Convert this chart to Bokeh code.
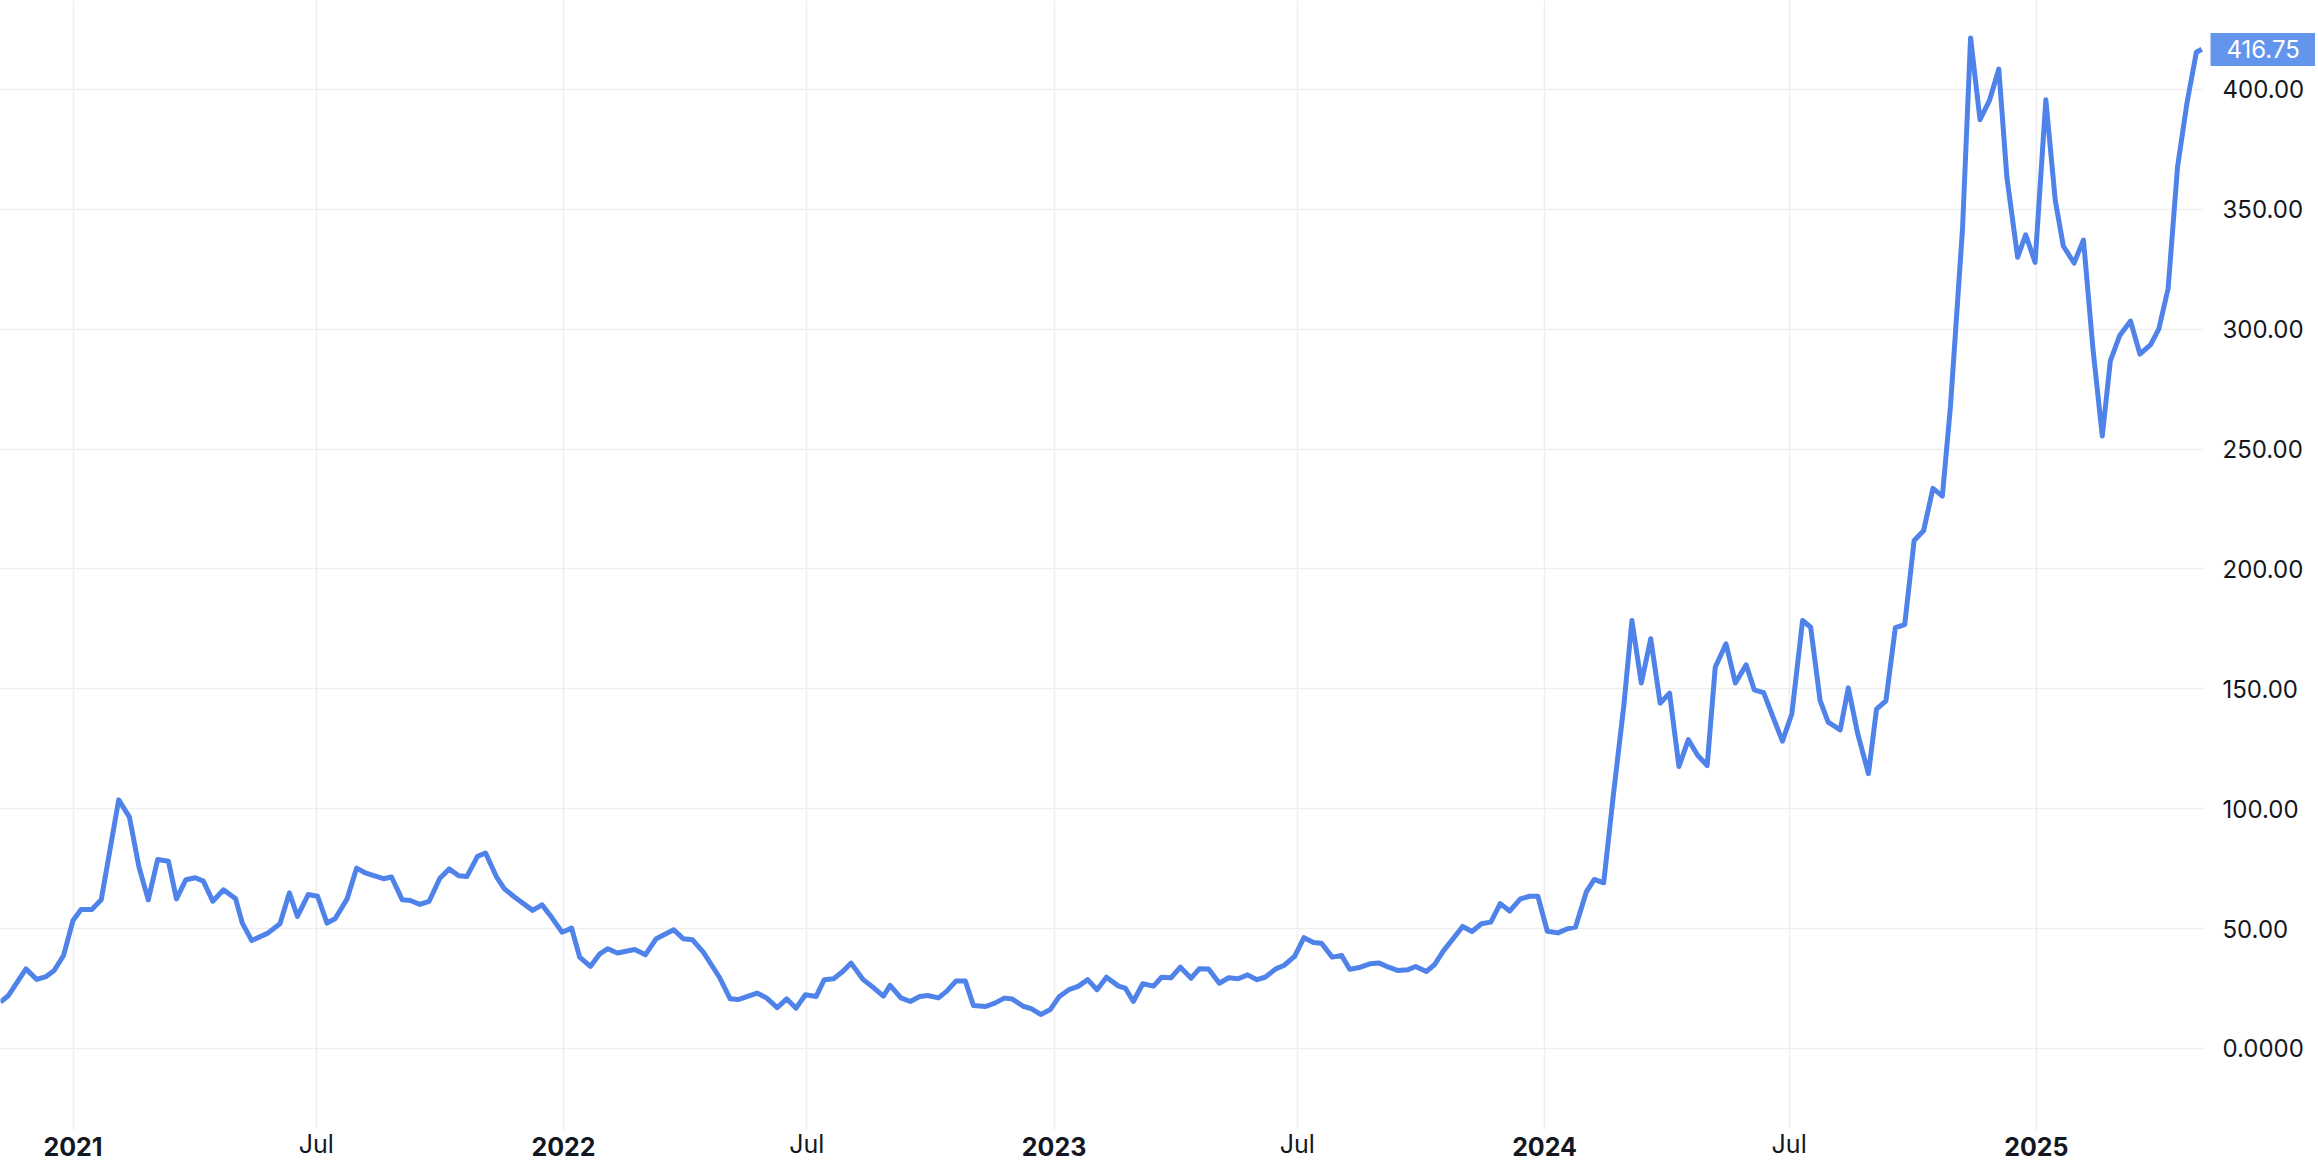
import pandas as pd
from bokeh.plotting import figure
from bokeh.models import (Range1d, LinearAxis, DatetimeAxis, FixedTicker, DatetimeTickFormatter,
                          CustomJSTickFormatter, Grid, ColumnDataSource)
from bokeh.embed import file_html
from bokeh.resources import INLINE

# ---- data ----
dates = [
    "2020-11-08", "2020-11-14", "2020-11-27", "2020-12-05", "2020-12-12", "2020-12-18", "2020-12-25",
    "2021-01-01", "2021-01-07", "2021-01-15", "2021-01-22", "2021-02-04", "2021-02-12", "2021-02-19",
    "2021-02-26", "2021-03-05", "2021-03-13", "2021-03-19", "2021-03-26", "2021-04-02", "2021-04-08",
    "2021-04-15", "2021-04-23", "2021-05-02", "2021-05-07", "2021-05-14", "2021-05-26", "2021-06-04",
    "2021-06-11", "2021-06-17", "2021-06-25", "2021-07-02", "2021-07-09", "2021-07-15", "2021-07-24",
    "2021-07-31", "2021-08-07", "2021-08-20", "2021-08-26", "2021-09-03", "2021-09-09", "2021-09-16",
    "2021-09-23", "2021-10-01", "2021-10-08", "2021-10-15", "2021-10-21", "2021-10-29", "2021-11-04",
    "2021-11-12", "2021-11-18", "2021-11-25", "2021-12-09", "2021-12-16", "2021-12-23", "2021-12-31",
    "2022-01-07", "2022-01-13", "2022-01-21", "2022-01-28", "2022-02-03", "2022-02-10", "2022-02-23",
    "2022-03-03", "2022-03-11", "2022-03-24", "2022-03-31", "2022-04-07", "2022-04-15", "2022-04-27",
    "2022-05-05", "2022-05-11", "2022-05-25", "2022-06-01", "2022-06-09", "2022-06-16", "2022-06-23",
    "2022-06-30", "2022-07-08", "2022-07-14", "2022-07-21", "2022-07-28", "2022-08-03", "2022-08-12",
    "2022-08-20", "2022-08-27", "2022-09-01", "2022-09-09", "2022-09-16", "2022-09-23", "2022-09-29",
    "2022-10-07", "2022-10-13", "2022-10-20", "2022-10-27", "2022-11-02", "2022-11-11", "2022-11-18",
    "2022-11-25", "2022-12-01", "2022-12-09", "2022-12-15", "2022-12-22", "2022-12-29", "2023-01-05",
    "2023-01-12", "2023-01-19", "2023-01-26", "2023-02-02", "2023-02-09", "2023-02-18", "2023-02-23",
    "2023-03-01", "2023-03-08", "2023-03-16", "2023-03-22", "2023-03-29", "2023-04-05", "2023-04-13",
    "2023-04-19", "2023-04-26", "2023-05-04", "2023-05-11", "2023-05-18", "2023-05-25", "2023-06-01",
    "2023-06-07", "2023-06-15", "2023-06-21", "2023-06-29", "2023-07-06", "2023-07-13", "2023-07-19",
    "2023-07-27", "2023-08-03", "2023-08-09", "2023-08-17", "2023-08-24", "2023-08-31", "2023-09-07",
    "2023-09-14", "2023-09-21", "2023-09-27", "2023-10-05", "2023-10-11", "2023-10-18", "2023-10-25",
    "2023-11-01", "2023-11-08", "2023-11-15", "2023-11-22", "2023-11-29", "2023-12-06", "2023-12-14",
    "2023-12-21", "2023-12-27", "2024-01-03", "2024-01-11", "2024-01-18", "2024-01-24", "2024-02-01",
    "2024-02-07", "2024-02-14", "2024-02-21", "2024-02-29", "2024-03-06", "2024-03-13", "2024-03-20",
    "2024-03-27", "2024-04-03", "2024-04-10", "2024-04-17", "2024-04-24", "2024-05-01", "2024-05-07",
    "2024-05-15", "2024-05-22", "2024-05-30", "2024-06-05", "2024-06-12", "2024-06-19", "2024-06-26",
    "2024-07-03", "2024-07-11", "2024-07-17", "2024-07-24", "2024-07-30", "2024-08-08", "2024-08-14",
    "2024-08-21", "2024-08-29", "2024-09-04", "2024-09-11", "2024-09-18", "2024-09-25", "2024-10-02",
    "2024-10-09", "2024-10-16", "2024-10-23", "2024-10-29", "2024-11-07", "2024-11-13", "2024-11-20",
    "2024-11-27", "2024-12-04", "2024-12-10", "2024-12-18", "2024-12-24", "2024-12-31", "2025-01-08",
    "2025-01-15", "2025-01-21", "2025-01-29", "2025-02-05", "2025-02-12", "2025-02-19", "2025-02-25",
    "2025-03-04", "2025-03-12", "2025-03-19", "2025-03-27", "2025-04-02", "2025-04-09", "2025-04-16",
    "2025-04-23", "2025-04-30", "2025-05-04",
]
values = [
    19.3, 22.1, 33.2, 28.8, 30.0, 32.5, 38.8,
    53.4, 58.0, 58.0, 62.0, 103.7, 96.5, 75.9,
    62.0, 78.8, 78.1, 62.4, 70.4, 71.2, 69.8,
    61.4, 66.2, 62.4, 52.3, 45.0, 48.1, 52.0,
    64.9, 55.1, 64.2, 63.5, 52.3, 54.1, 62.4,
    75.2, 73.1, 70.8, 71.5, 62.0, 61.7, 60.1,
    61.4, 71.0, 74.9, 72.0, 71.7, 80.1, 81.5,
    71.7, 66.6, 63.4, 57.6, 59.9, 54.8, 48.5,
    50.2, 38.1, 34.2, 39.5, 41.6, 39.8, 41.3,
    39.1, 45.8, 49.5, 45.8, 45.3, 40.2, 29.7,
    20.7, 20.4, 23.1, 21.1, 17.0, 20.7, 16.8,
    22.4, 21.7, 28.7, 29.1, 32.2, 35.6, 28.7,
    25.2, 21.8, 26.3, 21.1, 19.6, 21.7, 22.1,
    21.1, 23.8, 28.1, 28.1, 17.9, 17.5, 18.9,
    21.0, 20.6, 17.6, 16.6, 14.2, 16.1, 21.7,
    24.5, 25.9, 28.7, 24.5, 29.7, 26.0, 25.2,
    19.6, 27.0, 26.0, 29.7, 29.5, 33.9, 29.3,
    33.2, 33.1, 27.2, 29.5, 29.1, 30.7, 28.7,
    29.7, 33.2, 34.6, 38.4, 46.2, 44.2, 43.9,
    38.1, 38.8, 33.0, 33.9, 35.3, 35.6, 33.9,
    32.5, 32.8, 34.2, 32.1, 34.9, 40.9, 45.8,
    50.9, 48.8, 52.0, 52.7, 60.4, 57.3, 62.4,
    63.5, 63.5, 48.9, 48.2, 49.9, 50.6, 65.2,
    70.5, 69.1, 104.8, 143.1, 178.5, 152.4, 170.9,
    144.0, 148.2, 117.6, 128.8, 122.2, 118.0, 159.0,
    168.8, 152.4, 160.0, 149.6, 148.4, 138.2, 128.2,
    139.6, 178.5, 175.7, 145.2, 136.1, 132.9, 150.4,
    131.3, 114.6, 141.5, 145.0, 175.5, 176.8, 211.9,
    215.9, 233.6, 230.4, 267.6, 342.0, 421.5, 387.4,
    395.3, 408.5, 363.4, 330.0, 339.4, 327.9, 395.7,
    353.8, 334.7, 327.6, 337.2, 292.1, 255.5, 286.8,
    297.4, 303.4, 289.6, 293.6, 300.0, 317.0, 367.7,
    394.3, 415.5, 416.75,
]
year_ticks = ["2021-01-01", "2022-01-01", "2023-01-01", "2024-01-01", "2025-01-01"]
mid_ticks = ["2021-07-01", "2022-07-01", "2023-07-01", "2024-07-01"]
y_ticks = [0, 50, 100, 150, 200, 250, 300, 350, 400]
last_value = values[-1]


def ms(t):
    return pd.Timestamp(t).value / 1e6


LINE = "#4F83EA"
BADGE = "#6495ED"
TEXT = "#131722"
GRID = "#EEEEEE"

FRAME_W = 2203
FRAME_H = 1129
PX_PER_DAY = 1.3439
LABEL_W = 81          # approx. width of the widest y label at 24px Inter
LABEL_H = 30          # approx. text box height of a 25px Inter label
x_start = pd.Timestamp("2021-01-01") - pd.Timedelta(days=72.5 / PX_PER_DAY)
x_end = x_start + pd.Timedelta(days=FRAME_W / PX_PER_DAY)

src = ColumnDataSource(dict(date=pd.to_datetime(dates), value=values))

p = figure(frame_width=FRAME_W, frame_height=FRAME_H, x_axis_type="datetime",
           x_range=Range1d(ms(x_start), ms(x_end)), y_range=Range1d(-33.8, 437.1),
           x_axis_location=None, y_axis_location=None, toolbar_location=None,
           output_backend="svg", min_border_left=0, min_border_top=0,
           min_border_right=112, min_border_bottom=37,
           outline_line_color=None, background_fill_color="white", border_fill_color="white")

all_x = sorted([ms(t) for t in year_ticks + mid_ticks])
p.add_layout(Grid(dimension=0, ticker=FixedTicker(ticks=all_x),
                  grid_line_color=GRID, grid_line_width=1.5))
p.add_layout(Grid(dimension=1, ticker=FixedTicker(ticks=y_ticks),
                  grid_line_color=GRID, grid_line_width=1.5))

p.line(x="date", y="value", source=src, line_color=LINE, line_width=5, line_join="round")

yaxis = LinearAxis(ticker=FixedTicker(ticks=y_ticks),
                   formatter=CustomJSTickFormatter(code="return tick == 0 ? '0.0000' : tick.toFixed(2);"),
                   axis_line_color=None, major_tick_line_color=None, minor_tick_line_color=None,
                   major_tick_in=0, major_tick_out=0, minor_tick_in=0, minor_tick_out=0,
                   major_label_text_font="Inter", major_label_text_font_size="24px",
                   major_label_text_color=TEXT, major_label_standoff=19)
p.add_layout(yaxis, "right")

# last-price badge: a second right axis with one thick tick (the box) and a white label
badge_axis = LinearAxis(ticker=FixedTicker(ticks=[last_value]),
                        formatter=CustomJSTickFormatter(code="return tick.toFixed(2);"),
                        axis_line_color=None, minor_tick_line_color=None,
                        minor_tick_in=0, minor_tick_out=0,
                        major_tick_line_color=BADGE, major_tick_line_width=33,
                        major_tick_line_cap="butt",
                        major_tick_in=19 + LABEL_W - 3, major_tick_out=19,
                        major_label_text_font="Inter", major_label_text_font_size="24px",
                        major_label_text_color="white", major_label_standoff=-(LABEL_W + 19))
p.add_layout(badge_axis, "right")

scales = ["microseconds", "milliseconds", "seconds", "minsec", "minutes", "hourmin",
          "hours", "days", "months", "years"]


def fmt(f):
    return DatetimeTickFormatter(**{k: f for k in scales})


xa_years = DatetimeAxis(ticker=FixedTicker(ticks=[ms(t) for t in year_ticks]), formatter=fmt("%Y"),
                        axis_line_color=None, major_tick_line_color=None, minor_tick_line_color=None,
                        major_tick_in=0, major_tick_out=0, minor_tick_in=0, minor_tick_out=0,
                        major_label_text_font="Inter", major_label_text_font_size="25px",
                        major_label_text_font_style="bold", major_label_text_color=TEXT,
                        major_label_standoff=7)
xa_mid = DatetimeAxis(ticker=FixedTicker(ticks=[ms(t) for t in mid_ticks]), formatter=fmt("%b"),
                      axis_line_color=None, major_tick_line_color=None, minor_tick_line_color=None,
                      major_tick_in=0, major_tick_out=0, minor_tick_in=0, minor_tick_out=0,
                      major_label_text_font="Inter", major_label_text_font_size="25px",
                      major_label_text_font_style="normal", major_label_text_color=TEXT,
                      major_label_standoff=-LABEL_H)
p.add_layout(xa_years, "below")
p.add_layout(xa_mid, "below")

open("out.html", "w").write(file_html(p, INLINE))
